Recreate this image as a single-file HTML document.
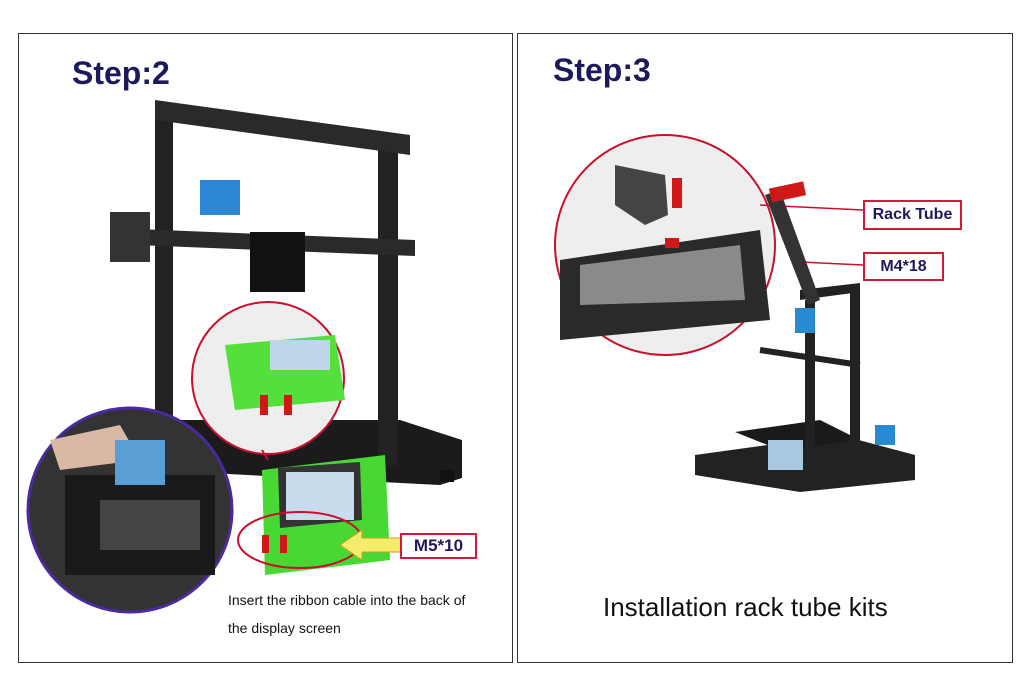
<!DOCTYPE html>
<html><head><meta charset="utf-8"><style>
body{margin:0;width:1024px;height:676px;background:#fff;overflow:hidden;font-family:"Liberation Sans",sans-serif;position:relative}
.p{position:absolute;border:1px solid #333}
.t{position:absolute;font-weight:bold;color:#1c1a5c;font-size:32px}
.lb{position:absolute;border:2px solid #d11a3a;background:#fff;font-weight:bold;color:#1c1a5c;font-size:16px;text-align:center}
</style></head><body>
<div class="p" style="left:18px;top:33px;width:493px;height:628px"></div>
<div class="p" style="left:517px;top:33px;width:494px;height:628px"></div>
<div class="t" style="left:72px;top:55px">Step:2</div>
<div class="t" style="left:553px;top:52px">Step:3</div>
<svg width="1024" height="676" style="position:absolute;left:0;top:0">
<!-- left printer -->
<polygon points="150,420 400,420 462,440 462,478 440,485 150,470" fill="#1b1b1b"/>
<rect x="155" y="105" width="18" height="330" fill="#222"/>
<rect x="378" y="135" width="20" height="330" fill="#222"/>
<polygon points="155,100 410,135 410,155 155,120" fill="#2a2a2a"/>
<polygon points="110,228 415,240 415,256 110,244" fill="#2a2a2a"/>
<rect x="110" y="212" width="40" height="50" fill="#333"/>
<rect x="250" y="232" width="55" height="60" fill="#111"/>
<rect x="200" y="180" width="40" height="35" fill="#2e86d6"/>
<rect x="270" y="380" width="40" height="30" fill="#222"/>
<rect x="440" y="470" width="14" height="12" fill="#111"/>
<!-- green magnifier -->
<circle cx="268" cy="378" r="76" fill="#eee" stroke="#c8102e" stroke-width="2"/>
<polygon points="225,345 335,335 345,400 235,410" fill="#53e03a"/>
<rect x="270" y="340" width="60" height="30" fill="#bfd5e8"/>
<rect x="260" y="395" width="8" height="20" fill="#d01818"/>
<rect x="284" y="395" width="8" height="20" fill="#d01818"/>
<line x1="262" y1="450" x2="268" y2="460" stroke="#c8102e" stroke-width="2"/>
<!-- green display -->
<polygon points="262,470 385,455 390,560 265,575" fill="#47d834"/>
<polygon points="278,468 360,462 362,520 280,528" fill="#333"/>
<rect x="286" y="472" width="68" height="48" fill="#c8dcee"/>
<ellipse cx="300" cy="540" rx="62" ry="28" fill="none" stroke="#c8102e" stroke-width="2"/>
<rect x="262" y="535" width="7" height="18" fill="#d01818"/>
<rect x="280" y="535" width="7" height="18" fill="#d01818"/>
<!-- photo circle -->
<circle cx="130" cy="510" r="102" fill="#333" stroke="#4a2a9e" stroke-width="3"/>
<rect x="65" y="475" width="150" height="100" fill="#1a1a1a"/>
<rect x="100" y="500" width="100" height="50" fill="#444"/>
<polygon points="50,440 120,425 140,460 60,470" fill="#d9b8a6"/>
<rect x="115" y="440" width="50" height="45" fill="#5a9ed6"/>
<!-- arrow -->
<polygon points="340,545 362,530 362,538 402,538 402,552 362,552 362,560" fill="#f5ec6b" stroke="#c8a020"/>
<!-- right circle -->
<circle cx="665" cy="245" r="110" fill="#eee" stroke="#c8102e" stroke-width="2"/>
<polygon points="560,260 760,230 770,320 560,340" fill="#2a2a2a"/>
<polygon points="580,265 740,245 745,300 580,305" fill="#8a8a8a"/>
<polygon points="615,165 665,175 668,215 645,225 615,205" fill="#444"/>
<rect x="672" y="178" width="10" height="30" fill="#d01818"/>
<rect x="665" y="238" width="14" height="10" fill="#d01818"/>
<line x1="760" y1="205" x2="863" y2="210" stroke="#c8102e" stroke-width="1.5"/>
<line x1="800" y1="262" x2="863" y2="265" stroke="#c8102e" stroke-width="1.5"/>
<!-- right printer -->
<polygon points="695,455 840,435 915,455 915,480 800,492 695,475" fill="#222"/>
<polygon points="735,432 820,420 860,440 780,450" fill="#1a1a1a"/>
<rect x="768" y="440" width="35" height="30" fill="#a8c8e0"/>
<rect x="805" y="300" width="10" height="150" fill="#222"/>
<rect x="850" y="290" width="10" height="170" fill="#222"/>
<polygon points="800,290 860,283 860,292 800,300" fill="#222"/>
<polygon points="765,195 780,190 820,300 808,305" fill="#333"/>
<rect x="770" y="185" width="35" height="14" fill="#d01818" transform="rotate(-12 787 192)"/>
<rect x="795" y="308" width="20" height="25" fill="#2a8ad0"/>
<rect x="875" y="425" width="20" height="20" fill="#2a8ad0"/>
<line x1="760" y1="350" x2="860" y2="365" stroke="#222" stroke-width="6"/>
</svg>
<div class="lb" style="left:400px;top:533px;width:73px;height:22px;line-height:22px;font-size:17px">M5*10</div>
<div class="lb" style="left:863px;top:200px;width:95px;height:26px;line-height:26px">Rack Tube</div>
<div class="lb" style="left:863px;top:252px;width:77px;height:25px;line-height:25px">M4*18</div>
<div style="position:absolute;left:228px;top:592px;font-size:14px;color:#111">Insert the ribbon cable into the back of</div>
<div style="position:absolute;left:228px;top:620px;font-size:14px;color:#111">the display screen</div>
<div style="position:absolute;left:603px;top:592px;font-size:26px;color:#111">Installation rack tube kits</div>
</body></html>
